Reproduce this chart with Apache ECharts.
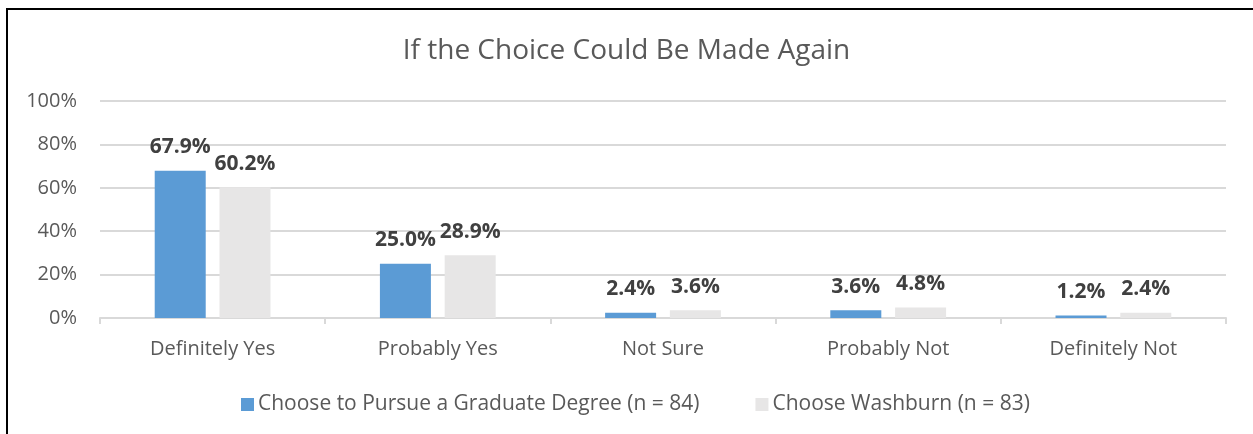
<!DOCTYPE html>
<html><head><meta charset="utf-8">
<script src="https://cdn.jsdelivr.net/npm/echarts@6/dist/echarts.min.js"></script>
<style>
html,body{margin:0;padding:0;background:#fff;overflow:hidden;}
#frame{position:absolute;left:6px;top:8px;width:1400px;height:600px;border:2px solid #000;box-sizing:border-box;}
#chart{position:absolute;left:0;top:0;width:1253px;height:434px;}
</style></head>
<body>
<div id="frame"></div>
<div id="chart"></div>
<script>
const categories = ["Definitely Yes","Probably Yes","Not Sure","Probably Not","Definitely Not"];
const gradDegree = [67.9, 25.0, 2.4, 3.6, 1.2];
const washburn = [60.2, 28.9, 3.6, 4.8, 2.4];
const seriesNames = ["Choose to Pursue a Graduate Degree (n = 84)", "Choose Washburn (n = 83)"];
const titleText = "If the Choice Could Be Made Again";
const font = "Open Sans";
const chart = echarts.init(document.getElementById('chart'));
const labelCfg = {show:true, position:'top', distance:13, fontFamily:font, fontWeight:'bold', fontSize:21, color:'#404040', formatter: p => p.value.toFixed(1) + '%'};
chart.setOption({
  animation:false,
  backgroundColor:'transparent',
  title:{text:titleText, left:'center', top:32, textStyle:{fontFamily:font, fontWeight:'normal', fontSize:28, color:'#595959'}},
  grid:{left:100, right:27, top:101, bottom:116, containLabel:false},
  legend:{bottom:14, left:236, itemWidth:13, itemHeight:13, itemGap:56, icon:'rect',
    textStyle:{fontFamily:font, fontSize:21, color:'#595959', padding:[0,0,0,-1]}, data:seriesNames},
  xAxis:{type:'category', data:categories,
    axisLine:{lineStyle:{color:'#D9D9D9', width:2}},
    axisTick:{show:true, length:6, lineStyle:{color:'#D9D9D9', width:2}},
    axisLabel:{fontFamily:font, fontSize:20, color:'#595959', margin:21}},
  yAxis:{type:'value', min:0, max:100, interval:20,
    axisLine:{show:false}, axisTick:{show:false},
    splitLine:{lineStyle:{color:'#D9D9D9', width:2}},
    axisLabel:{fontFamily:font, fontSize:20, color:'#595959', margin:23, formatter:v=>v+'%'}},
  series:[
    {name:seriesNames[0], type:'bar', data:gradDegree, barWidth:51, barGap:'27%', itemStyle:{color:'#5B9BD5'}, label:labelCfg},
    {name:seriesNames[1], type:'bar', data:washburn, barWidth:51, barGap:'27%', itemStyle:{color:'#E7E6E6'}, label:labelCfg}
  ]
});
</script>
</body></html>
